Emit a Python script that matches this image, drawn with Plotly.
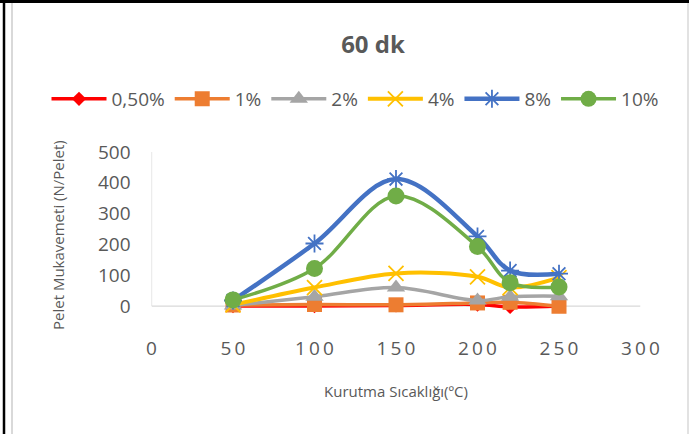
import plotly.graph_objects as go

# drying temperature (C)
temps = [50, 100, 150, 200, 220, 250]

# pellet strength (N/pellet) per additive ratio
s_050 = [0, 0, 2, 5, -3, 0]
s_1 = [3, 5, 4, 10, 12, -1]
s_2 = [2, 30, 60, 18, 30, 32]
s_4 = [4, 60, 106, 95, 60, 92]
s_8 = [18, 203, 412, 226, 115, 105]
s_10 = [20, 122, 357, 193, 76, 62]

names = ["0,50%", "1%", "2%", "4%", "8%", "10%"]
x_ticks = [0, 50, 100, 150, 200, 250, 300]
y_ticks = [0, 100, 200, 300, 400, 500]

W, H = 689, 434
FONT = "Open Sans"
TXT = "#595959"

styles = [
    dict(color="#FF0000", symbol="diamond", size=11, width=3.5),
    dict(color="#ED7D31", symbol="square", size=15, width=3.5),
    dict(color="#A5A5A5", symbol="triangle-up", size=16, width=3.5),
    dict(color="#FFC000", symbol="x-thin-open", size=15, width=4),
    dict(color="#4472C4", symbol="asterisk-open", size=15, width=4.5),
    dict(color="#70AD47", symbol="circle", size=17, width=3.5),
]

fig = go.Figure()

# axis lines only over the 0..500 / 0..300 span, like the excel chart
fig.add_shape(type="line", x0=0, x1=300, y0=0, y1=0, xref="x", yref="y",
              line=dict(color="#D9D9D9", width=1.3), layer="below")
fig.add_shape(type="line", x0=0, x1=0, y0=0, y1=500, xref="x", yref="y",
              line=dict(color="#D9D9D9", width=1.3), layer="below")

for name, ys, st in zip(names, [s_050, s_1, s_2, s_4, s_8, s_10], styles):
    mk = dict(color=st["color"], symbol=st["symbol"], size=st["size"])
    if st["symbol"].endswith("open"):
        mk["line"] = dict(color=st["color"], width=1.8)
    fig.add_trace(go.Scatter(
        x=temps, y=ys, name=name, mode="lines+markers",
        line=dict(color=st["color"], width=st["width"], shape="spline", smoothing=1),
        marker=mk,
    ))

# outer frame bits
fig.add_shape(type="line", xref="paper", yref="paper", x0=4 / W, x1=4 / W, y0=0, y1=1,
              line=dict(color="black", width=2.5))
fig.add_shape(type="line", xref="paper", yref="paper", x0=0, x1=1, y0=1 - 1.5 / H, y1=1 - 1.5 / H,
              line=dict(color="black", width=3))
fig.add_shape(type="line", xref="paper", yref="paper", x0=12 / W, x1=12 / W, y0=0, y1=1 - 3 / H,
              line=dict(color="#D9D9D9", width=2))
fig.add_shape(type="line", xref="paper", yref="paper", x0=688 / W, x1=688 / W, y0=0, y1=1 - 3 / H,
              line=dict(color="#D9D9D9", width=1.5))

fig.update_layout(
    width=W, height=H,
    margin=dict(l=0, r=0, t=0, b=0, autoexpand=False),
    paper_bgcolor="white", plot_bgcolor="white",
    font=dict(family=FONT, color=TXT),
    title=dict(text="<b>60 dk</b>", x=373 / W, xanchor="center", y=1 - 45 / H, yanchor="middle",
               font=dict(size=24, color=TXT, family=FONT)),
    showlegend=True,
    legend=dict(orientation="h", x=355 / W, xanchor="center", y=1 - 99 / H, yanchor="middle",
                font=dict(size=19, color=TXT), itemwidth=55, traceorder="normal",
                bgcolor="rgba(0,0,0,0)"),
    xaxis=dict(domain=[151.5 / W, 640.5 / W], range=[0, 300], tickvals=x_ticks,
               ticktext=["\u2009".join(str(v)) for v in x_ticks], automargin=False,
               showgrid=False, zeroline=False, showline=False, ticks="",
               tickfont=dict(size=19, color=TXT)),
    yaxis=dict(domain=[1 - 335 / H, 1 - 152 / H], range=[-94, 500], tickvals=y_ticks,
               showgrid=False, zeroline=False, showline=False, ticks="", automargin=False,
               ticklabelstandoff=20, tickfont=dict(size=19, color=TXT)),
    annotations=[
        dict(text="Kurutma Sıcaklığı(ºC)", xref="paper", yref="paper", x=396 / W, y=1 - 391 / H,
             xanchor="center", yanchor="middle", showarrow=False, font=dict(size=15, color=TXT)),
        dict(text="Pelet Mukavemeti (N/Pelet)", xref="paper", yref="paper", x=58 / W, y=1 - 235 / H,
             xanchor="center", yanchor="middle", showarrow=False, textangle=-90,
             font=dict(size=15, color=TXT)),
    ],
)

# the page body has a default 8px margin; drop it so the chart sits at 0,0
fig.write_html("out.html", config={"displayModeBar": False},
               post_script="document.body.style.margin='0px';")
